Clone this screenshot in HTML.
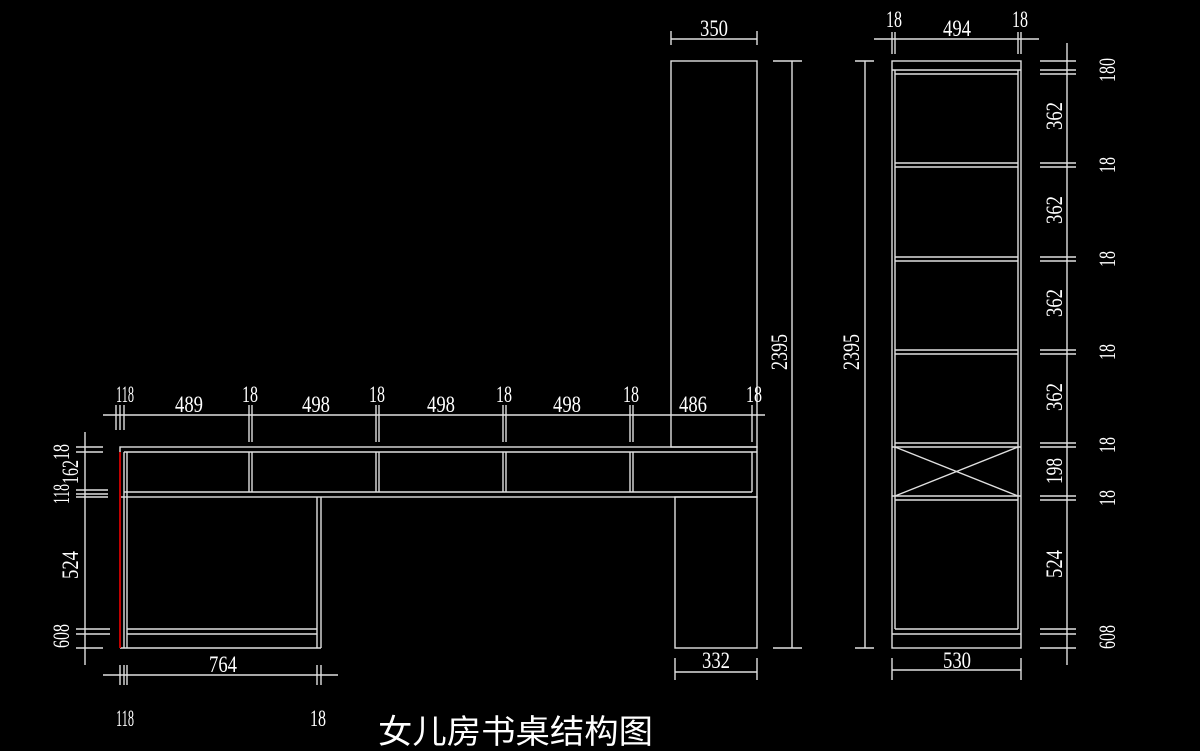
<!DOCTYPE html>
<html><head><meta charset="utf-8"><style>
html,body{margin:0;padding:0;background:#000;width:1200px;height:751px;overflow:hidden}
svg{display:block}
text{font-family:"Liberation Serif","Noto Serif CJK SC",serif;fill:#fff}
</style></head><body>
<svg width="1200" height="751" viewBox="0 0 1200 751" xmlns="http://www.w3.org/2000/svg">
<g stroke="#e0e0e0" stroke-width="1.4" fill="none">
<rect x="120" y="447" width="637" height="50"/>
<line x1="124" y1="452" x2="757" y2="452"/>
<line x1="124" y1="492" x2="752" y2="492"/>
<line x1="124" y1="452" x2="124" y2="648"/>
<line x1="127" y1="452" x2="127" y2="648"/>
<line x1="752" y1="452" x2="752" y2="492"/>
<line x1="249" y1="452" x2="249" y2="492"/><line x1="252" y1="452" x2="252" y2="492"/>
<line x1="376" y1="452" x2="376" y2="492"/><line x1="379" y1="452" x2="379" y2="492"/>
<line x1="503" y1="452" x2="503" y2="492"/><line x1="506" y1="452" x2="506" y2="492"/>
<line x1="630" y1="452" x2="630" y2="492"/><line x1="633" y1="452" x2="633" y2="492"/>
<line x1="120" y1="648" x2="321" y2="648"/>
<line x1="317" y1="497" x2="317" y2="648"/><line x1="321" y1="497" x2="321" y2="648"/>
<line x1="127" y1="629" x2="317" y2="629"/><line x1="127" y1="634" x2="317" y2="634"/>
<rect x="671" y="61" width="86" height="386"/>
<rect x="675" y="497" width="82" height="151"/>
<rect x="892" y="61" width="129" height="587"/>
<line x1="892" y1="70" x2="1021" y2="70"/>
<line x1="895" y1="74" x2="1018" y2="74"/>
<line x1="895" y1="70" x2="895" y2="629"/><line x1="1018" y1="70" x2="1018" y2="629"/>
<line x1="895" y1="163" x2="1018" y2="163"/><line x1="895" y1="167" x2="1018" y2="167"/>
<line x1="895" y1="257" x2="1018" y2="257"/><line x1="895" y1="261" x2="1018" y2="261"/>
<line x1="895" y1="350" x2="1018" y2="350"/><line x1="895" y1="354" x2="1018" y2="354"/>
<line x1="895" y1="443" x2="1018" y2="443"/><line x1="892" y1="447" x2="1021" y2="447"/>
<line x1="892" y1="496" x2="1021" y2="496"/><line x1="895" y1="500" x2="1018" y2="500"/>
<line x1="895" y1="447" x2="1018" y2="496"/><line x1="1018" y1="447" x2="895" y2="496"/>
<line x1="895" y1="629" x2="1018" y2="629"/><line x1="892" y1="634" x2="1021" y2="634"/>
<line x1="103" y1="415" x2="765" y2="415"/>
<line x1="116" y1="405" x2="116" y2="430"/><line x1="120" y1="405" x2="120" y2="430"/><line x1="124" y1="405" x2="124" y2="430"/>
<line x1="249" y1="405" x2="249" y2="442"/><line x1="252" y1="405" x2="252" y2="442"/>
<line x1="376" y1="405" x2="376" y2="442"/><line x1="379" y1="405" x2="379" y2="442"/>
<line x1="503" y1="405" x2="503" y2="442"/><line x1="506" y1="405" x2="506" y2="442"/>
<line x1="630" y1="405" x2="630" y2="442"/><line x1="633" y1="405" x2="633" y2="442"/>
<line x1="752" y1="405" x2="752" y2="442"/>
<line x1="85" y1="432" x2="85" y2="665"/>
<line x1="76" y1="447" x2="103" y2="447"/><line x1="76" y1="452" x2="103" y2="452"/>
<line x1="76" y1="490" x2="108" y2="490"/><line x1="76" y1="494" x2="108" y2="494"/><line x1="76" y1="497" x2="108" y2="497"/>
<line x1="76" y1="629" x2="110" y2="629"/><line x1="76" y1="634" x2="110" y2="634"/><line x1="76" y1="648" x2="103" y2="648"/>
<line x1="103" y1="675" x2="338" y2="675"/>
<line x1="120" y1="665" x2="120" y2="685"/><line x1="124" y1="665" x2="124" y2="685"/><line x1="127" y1="665" x2="127" y2="685"/>
<line x1="317" y1="665" x2="317" y2="685"/><line x1="321" y1="665" x2="321" y2="685"/>
<line x1="671" y1="39" x2="757" y2="39"/><line x1="671" y1="31" x2="671" y2="45"/><line x1="757" y1="31" x2="757" y2="45"/>
<line x1="792" y1="61" x2="792" y2="648"/><line x1="773" y1="61" x2="802" y2="61"/><line x1="773" y1="648" x2="802" y2="648"/>
<line x1="675" y1="672" x2="757" y2="672"/><line x1="675" y1="658" x2="675" y2="680"/><line x1="757" y1="658" x2="757" y2="680"/>
<line x1="865" y1="61" x2="865" y2="648"/><line x1="855" y1="61" x2="874" y2="61"/><line x1="855" y1="648" x2="874" y2="648"/>
<line x1="874" y1="39" x2="1039" y2="39"/>
<line x1="892" y1="32" x2="892" y2="54"/><line x1="895" y1="32" x2="895" y2="54"/>
<line x1="1018" y1="32" x2="1018" y2="54"/><line x1="1021" y1="32" x2="1021" y2="54"/>
<line x1="892" y1="670" x2="1021" y2="670"/><line x1="892" y1="658" x2="892" y2="680"/><line x1="1021" y1="658" x2="1021" y2="680"/>
<line x1="1067" y1="43" x2="1067" y2="665"/>
<line x1="1040" y1="61" x2="1076" y2="61"/><line x1="1040" y1="70" x2="1076" y2="70"/><line x1="1040" y1="74" x2="1076" y2="74"/>
<line x1="1040" y1="163" x2="1076" y2="163"/><line x1="1040" y1="167" x2="1076" y2="167"/>
<line x1="1040" y1="257" x2="1076" y2="257"/><line x1="1040" y1="261" x2="1076" y2="261"/>
<line x1="1040" y1="350" x2="1076" y2="350"/><line x1="1040" y1="354" x2="1076" y2="354"/>
<line x1="1040" y1="443" x2="1076" y2="443"/><line x1="1040" y1="447" x2="1076" y2="447"/>
<line x1="1040" y1="496" x2="1076" y2="496"/><line x1="1040" y1="500" x2="1076" y2="500"/>
<line x1="1040" y1="629" x2="1076" y2="629"/><line x1="1040" y1="634" x2="1076" y2="634"/><line x1="1040" y1="648" x2="1076" y2="648"/>
</g>
<line x1="120" y1="452" x2="120" y2="648" stroke="#c00000" stroke-width="2"/>
<g font-size="23" text-anchor="middle">
<text x="125" y="402" textLength="18" lengthAdjust="spacingAndGlyphs">118</text>
<text x="189" y="412" textLength="28" lengthAdjust="spacingAndGlyphs">489</text>
<text x="250" y="402" textLength="16" lengthAdjust="spacingAndGlyphs">18</text>
<text x="316" y="412" textLength="28" lengthAdjust="spacingAndGlyphs">498</text>
<text x="377" y="402" textLength="16" lengthAdjust="spacingAndGlyphs">18</text>
<text x="441" y="412" textLength="28" lengthAdjust="spacingAndGlyphs">498</text>
<text x="504" y="402" textLength="16" lengthAdjust="spacingAndGlyphs">18</text>
<text x="567" y="412" textLength="28" lengthAdjust="spacingAndGlyphs">498</text>
<text x="631" y="402" textLength="16" lengthAdjust="spacingAndGlyphs">18</text>
<text x="693" y="412" textLength="28" lengthAdjust="spacingAndGlyphs">486</text>
<text x="754" y="402" textLength="16" lengthAdjust="spacingAndGlyphs">18</text>
<text x="223" y="672" textLength="28" lengthAdjust="spacingAndGlyphs">764</text>
<text x="714" y="36" textLength="28" lengthAdjust="spacingAndGlyphs">350</text>
<text x="716" y="668" textLength="28" lengthAdjust="spacingAndGlyphs">332</text>
<text x="894" y="27" textLength="16" lengthAdjust="spacingAndGlyphs">18</text>
<text x="957" y="36" textLength="28" lengthAdjust="spacingAndGlyphs">494</text>
<text x="1020" y="27" textLength="16" lengthAdjust="spacingAndGlyphs">18</text>
<text x="957" y="668" textLength="28" lengthAdjust="spacingAndGlyphs">530</text>
<text x="125" y="726" textLength="18" lengthAdjust="spacingAndGlyphs">118</text>
<text x="318" y="726" textLength="16" lengthAdjust="spacingAndGlyphs">18</text>
</g>
<g font-size="23" text-anchor="middle">
<text transform="translate(69,452) rotate(-90)" textLength="16" lengthAdjust="spacingAndGlyphs">18</text>
<text transform="translate(78,472) rotate(-90)" textLength="24" lengthAdjust="spacingAndGlyphs">162</text>
<text transform="translate(69,494) rotate(-90)" textLength="20" lengthAdjust="spacingAndGlyphs">118</text>
<text transform="translate(78,565) rotate(-90)" textLength="28" lengthAdjust="spacingAndGlyphs">524</text>
<text transform="translate(69,636) rotate(-90)" textLength="24" lengthAdjust="spacingAndGlyphs">608</text>
<text transform="translate(787,352) rotate(-90)" textLength="36" lengthAdjust="spacingAndGlyphs">2395</text>
<text transform="translate(859,352) rotate(-90)" textLength="36" lengthAdjust="spacingAndGlyphs">2395</text>
<text transform="translate(1115,70) rotate(-90)" textLength="24" lengthAdjust="spacingAndGlyphs">180</text>
<text transform="translate(1062,116) rotate(-90)" textLength="28" lengthAdjust="spacingAndGlyphs">362</text>
<text transform="translate(1115,165) rotate(-90)" textLength="16" lengthAdjust="spacingAndGlyphs">18</text>
<text transform="translate(1062,210) rotate(-90)" textLength="28" lengthAdjust="spacingAndGlyphs">362</text>
<text transform="translate(1115,259) rotate(-90)" textLength="16" lengthAdjust="spacingAndGlyphs">18</text>
<text transform="translate(1062,303) rotate(-90)" textLength="28" lengthAdjust="spacingAndGlyphs">362</text>
<text transform="translate(1115,352) rotate(-90)" textLength="16" lengthAdjust="spacingAndGlyphs">18</text>
<text transform="translate(1062,397) rotate(-90)" textLength="28" lengthAdjust="spacingAndGlyphs">362</text>
<text transform="translate(1115,445) rotate(-90)" textLength="16" lengthAdjust="spacingAndGlyphs">18</text>
<text transform="translate(1062,471) rotate(-90)" textLength="26" lengthAdjust="spacingAndGlyphs">198</text>
<text transform="translate(1115,498) rotate(-90)" textLength="16" lengthAdjust="spacingAndGlyphs">18</text>
<text transform="translate(1062,564) rotate(-90)" textLength="28" lengthAdjust="spacingAndGlyphs">524</text>
<text transform="translate(1115,637) rotate(-90)" textLength="24" lengthAdjust="spacingAndGlyphs">608</text>
</g>
<text x="378" y="743" font-size="33" style='font-family:"Liberation Sans","Noto Sans CJK SC",sans-serif' textLength="275" lengthAdjust="spacingAndGlyphs">女儿房书桌结构图</text>
</svg>
</body></html>
